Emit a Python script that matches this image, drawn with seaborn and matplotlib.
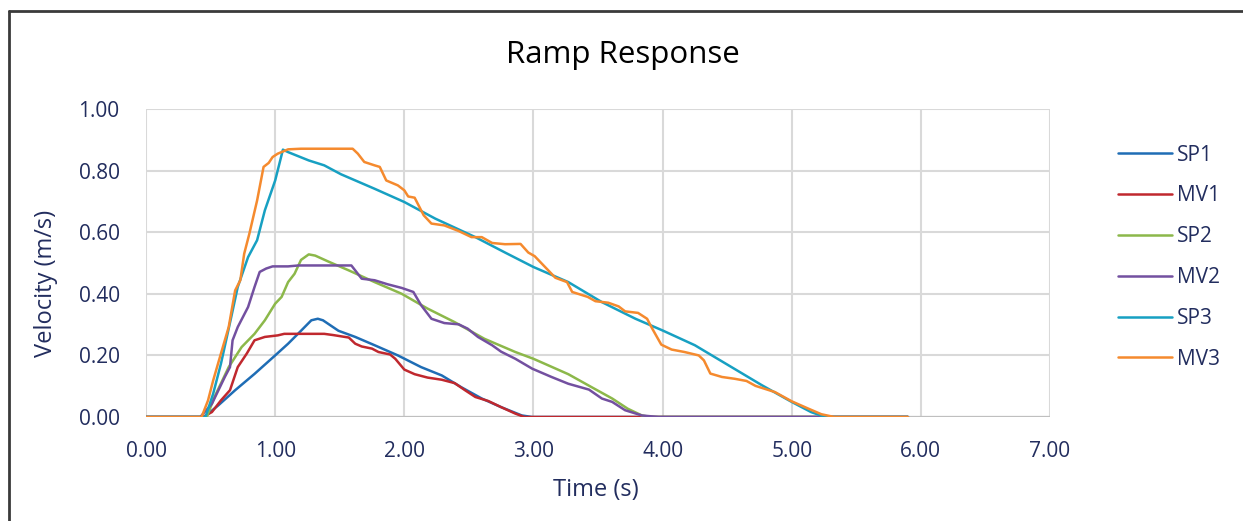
import matplotlib
matplotlib.use("Agg")
import matplotlib.pyplot as plt
from matplotlib.lines import Line2D
import seaborn as sns
import pandas as pd

# values (time in s, velocity in m/s)
sp1_t = [0.00, 0.45, 0.56, 0.69, 0.84, 1.00, 1.10, 1.20, 1.28, 1.33, 1.37, 1.49, 1.62, 1.77,
         1.95, 2.13, 2.29, 2.44, 2.60, 2.75, 2.91, 2.99, 5.90]
sp1_v = [0.000, 0.000, 0.038, 0.087, 0.140, 0.200, 0.238, 0.280, 0.314, 0.319, 0.314, 0.280,
         0.260, 0.233, 0.200, 0.162, 0.135, 0.097, 0.060, 0.032, 0.005, 0.000, 0.000]

mv1_t = [0.00, 0.44, 0.51, 0.58, 0.65, 0.71, 0.78, 0.84, 0.92, 1.02, 1.07, 1.38, 1.45, 1.51,
         1.57, 1.62, 1.67, 1.75, 1.80, 1.89, 1.93, 2.00, 2.08, 2.18, 2.29, 2.39, 2.47, 2.55,
         2.65, 2.75, 2.86, 2.93, 5.90]
mv1_v = [0.000, 0.000, 0.016, 0.054, 0.087, 0.162, 0.206, 0.249, 0.260, 0.265, 0.270, 0.270,
         0.266, 0.262, 0.258, 0.238, 0.229, 0.222, 0.211, 0.203, 0.189, 0.154, 0.139, 0.128,
         0.121, 0.110, 0.087, 0.065, 0.052, 0.032, 0.011, 0.000, 0.000]

sp2_t = [0.00, 0.47, 0.53, 0.64, 0.74, 0.84, 0.92, 1.00, 1.05, 1.10, 1.15, 1.20, 1.26, 1.31,
         1.41, 1.57, 1.77, 1.98, 2.18, 2.39, 2.62, 2.86, 3.00, 3.27, 3.45, 3.61, 3.73, 3.84,
         3.91, 5.90]
sp2_v = [0.000, 0.000, 0.065, 0.162, 0.227, 0.270, 0.314, 0.368, 0.390, 0.438, 0.465, 0.510,
         0.528, 0.524, 0.505, 0.476, 0.438, 0.400, 0.352, 0.308, 0.254, 0.211, 0.189, 0.139,
         0.097, 0.060, 0.027, 0.005, 0.000, 0.000]

mv2_t = [0.00, 0.42, 0.51, 0.61, 0.65, 0.67, 0.71, 0.79, 0.84, 0.88, 0.93, 0.98, 1.10, 1.18,
         1.59, 1.67, 1.77, 1.87, 1.98, 2.07, 2.13, 2.21, 2.31, 2.42, 2.49, 2.57, 2.68, 2.75,
         2.86, 2.99, 3.14, 3.27, 3.43, 3.53, 3.61, 3.71, 3.84, 3.97, 5.90]
mv2_v = [0.000, 0.000, 0.043, 0.130, 0.162, 0.249, 0.292, 0.357, 0.422, 0.471, 0.482, 0.489,
         0.489, 0.492, 0.492, 0.449, 0.444, 0.431, 0.419, 0.406, 0.363, 0.319, 0.305, 0.301,
         0.287, 0.260, 0.233, 0.212, 0.189, 0.157, 0.130, 0.108, 0.089, 0.060, 0.049, 0.022,
         0.005, 0.000, 0.000]

sp3_t = [0.00, 0.46, 0.52, 0.58, 0.66, 0.71, 0.79, 0.86, 0.92, 1.00, 1.06, 1.10, 1.26, 1.38,
         1.51, 1.77, 2.00, 2.24, 2.55, 2.78, 3.00, 3.27, 3.53, 3.79, 4.00, 4.25, 4.51, 4.77,
         5.00, 5.15, 5.26, 5.90]
sp3_v = [0.000, 0.000, 0.076, 0.173, 0.325, 0.422, 0.519, 0.574, 0.671, 0.768, 0.868, 0.860,
         0.833, 0.817, 0.788, 0.741, 0.698, 0.644, 0.584, 0.534, 0.487, 0.438, 0.373, 0.319,
         0.281, 0.233, 0.168, 0.103, 0.049, 0.016, 0.000, 0.000]

mv3_t = [0.00, 0.43, 0.48, 0.52, 0.58, 0.64, 0.69, 0.73, 0.76, 0.80, 0.86, 0.91, 0.95, 0.98,
         1.02, 1.10, 1.20, 1.60, 1.64, 1.69, 1.77, 1.81, 1.86, 1.95, 2.00, 2.03, 2.08, 2.15,
         2.21, 2.31, 2.42, 2.52, 2.60, 2.68, 2.78, 2.90, 2.96, 3.01, 3.09, 3.17, 3.26, 3.30,
         3.42, 3.48, 3.58, 3.66, 3.71, 3.81, 3.88, 3.92, 3.99, 4.07, 4.17, 4.28, 4.32, 4.37,
         4.46, 4.56, 4.65, 4.72, 4.87, 5.00, 5.13, 5.23, 5.33, 5.90]
mv3_v = [0.000, 0.000, 0.054, 0.119, 0.206, 0.292, 0.411, 0.444, 0.530, 0.595, 0.703, 0.812,
         0.825, 0.844, 0.855, 0.869, 0.871, 0.871, 0.855, 0.828, 0.817, 0.812, 0.768, 0.752,
         0.736, 0.716, 0.712, 0.655, 0.628, 0.622, 0.604, 0.584, 0.584, 0.565, 0.561, 0.562,
         0.534, 0.522, 0.487, 0.452, 0.438, 0.406, 0.390, 0.376, 0.371, 0.359, 0.343, 0.338,
         0.319, 0.287, 0.235, 0.219, 0.211, 0.200, 0.184, 0.141, 0.130, 0.124, 0.117, 0.101,
         0.081, 0.051, 0.027, 0.009, 0.000, 0.000]

series = ["SP1", "MV1", "SP2", "MV2", "SP3", "MV3"]
colors = ["#1F6DB5", "#C0282E", "#8CB84A", "#7350A0", "#17A0C2", "#F58A2E"]

x_ticks = [0, 1, 2, 3, 4, 5, 6, 7]
y_ticks = [0, 0.2, 0.4, 0.6, 0.8, 1.0]

times = [sp1_t, mv1_t, sp2_t, mv2_t, sp3_t, mv3_t]
vals = [sp1_v, mv1_v, sp2_v, mv2_v, sp3_v, mv3_v]
frames = []
for name, t, v in zip(series, times, vals):
    frames.append(pd.DataFrame({"Time": t, "Velocity": v, "Series": name}))
df = pd.concat(frames, ignore_index=True)

sns.set_style("white")
plt.rcParams['font.family'] = ['Open Sans', 'DejaVu Sans']
text_col = "#222D5E"

fig = plt.figure(figsize=(12.43, 5.21), dpi=100)
ax = fig.add_axes([0.1175, 0.1996, 0.7272, 0.5912])

sns.lineplot(data=df, x="Time", y="Velocity", hue="Series", hue_order=series,
             palette=colors, estimator=None, sort=False, linewidth=1.8, ax=ax)

ax.set_xlim(0, 7)
ax.set_ylim(0, 1)
ax.set_xticks(x_ticks)
ax.set_yticks(y_ticks)
ax.set_xticklabels([f"{x:.2f}" for x in x_ticks])
ax.set_yticklabels([f"{y:.2f}" for y in y_ticks])
ax.grid(True, color="#D9D9D9", linewidth=1.5)
ax.set_axisbelow(True)
for s in ax.spines.values():
    s.set_visible(False)
ax.axhline(0, color="#BFBFBF", linewidth=1.6, zorder=1)
ax.tick_params(axis="both", length=0, labelsize=15, labelcolor=text_col)
ax.tick_params(axis="x", pad=17)
ax.tick_params(axis="y", pad=19)

ax.set_xlabel("Time (s)", fontsize=17, color=text_col, va="center")
ax.xaxis.set_label_coords(0.498, -0.237)
ax.set_ylabel("Velocity (m/s)", fontsize=17, color=text_col, va="center")
ax.yaxis.set_label_coords(-0.111, 0.435)
fig.text(0.501, 0.894, "Ramp Response", ha="center", va="center", fontsize=22.5, color="black")

ax.legend(loc="upper left", bbox_to_anchor=(1.055, 0.945), frameon=False, fontsize=15,
          labelcolor=text_col, handlelength=2.55, handletextpad=0.25, labelspacing=0.95)

# chart frame (left and top edges visible in the screenshot)
fig.add_artist(Line2D([0.0075, 0.0075], [0.0, 0.979], color="#3A3A3A", linewidth=2))
fig.add_artist(Line2D([0.0075, 1.0], [0.979, 0.979], color="#3A3A3A", linewidth=2))

fig.savefig("out.png", dpi=100)
